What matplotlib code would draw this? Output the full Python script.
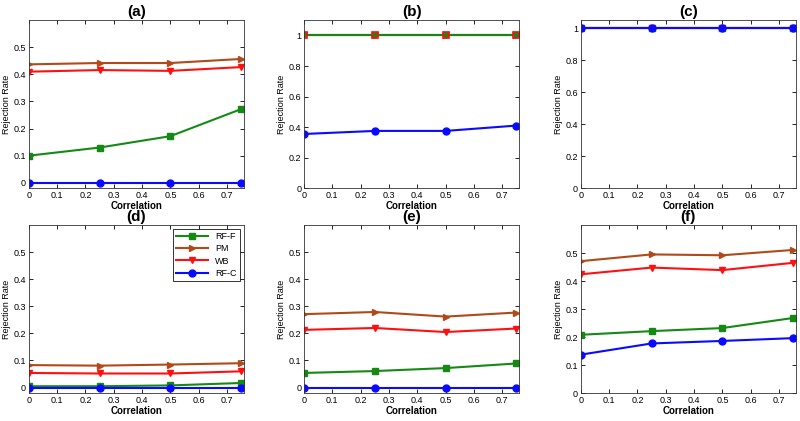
import matplotlib
matplotlib.use('Agg')
import matplotlib.pyplot as plt

plt.rcParams['font.family'] = ['Liberation Sans', 'DejaVu Sans']

corr = [0, 0.25, 0.5, 0.75]
names = ['RF-F', 'PM', 'WB', 'RF-C']
titles = ['(a)', '(b)', '(c)', '(d)', '(e)', '(f)']

# rejection rates per panel: RF-F, PM, WB, RF-C
rf_f = [
    [0.100, 0.130, 0.172, 0.272],
    [1, 1, 1, 1],
    [1, 1, 1, 1],
    [0.005, 0.005, 0.008, 0.017],
    [0.054, 0.061, 0.072, 0.089],
    [0.208, 0.221, 0.232, 0.268],
]
pm = [
    [0.437, 0.442, 0.442, 0.457],
    [1, 1, 1, 1],
    [1, 1, 1, 1],
    [0.083, 0.081, 0.085, 0.090],
    [0.271, 0.279, 0.262, 0.277],
    [0.471, 0.495, 0.492, 0.511],
]
wb = [
    [0.410, 0.416, 0.413, 0.427],
    [1, 1, 1, 1],
    [1, 1, 1, 1],
    [0.054, 0.052, 0.052, 0.060],
    [0.213, 0.220, 0.205, 0.218],
    [0.424, 0.448, 0.439, 0.465],
]
rf_c = [
    [0, 0, 0, 0],
    [0.355, 0.375, 0.375, 0.410],
    [1, 1, 1, 1],
    [0, 0, 0, 0],
    [0, 0, 0, 0],
    [0.137, 0.177, 0.186, 0.196],
]

ylims = [(-0.02, 0.6), (0, 1.1), (0, 1.05), (-0.02, 0.6), (-0.02, 0.6), (0, 0.6)]
yticks = [
    [0, 0.1, 0.2, 0.3, 0.4, 0.5],
    [0, 0.2, 0.4, 0.6, 0.8, 1],
    [0, 0.2, 0.4, 0.6, 0.8, 1],
    [0, 0.1, 0.2, 0.3, 0.4, 0.5],
    [0, 0.1, 0.2, 0.3, 0.4, 0.5],
    [0, 0.1, 0.2, 0.3, 0.4, 0.5],
]

green = '#148a14'
brown = '#b04a18'
red = '#ff1010'
blue = '#0a0aff'

lefts = [0.036, 0.380, 0.726]
bottoms = [0.553, 0.0665]
w, h = 0.269, 0.399

fig = plt.figure(figsize=(8, 4.21), dpi=100)

for i in range(6):
    ax = fig.add_axes([lefts[i % 3], bottoms[i // 3], w, h])
    kw = dict(lw=1.5, ms=5)
    if i == 1:
        # RF-F drawn on top of PM and WB which all sit at 1
        ax.plot(corr, pm[i], color=brown, marker='>', **kw)
        ax.plot(corr, wb[i], color=red, marker='v', **kw)
        ax.plot(corr, rf_f[i], color=green, marker='s', mec=red, mfc=green, mew=1.2, **kw)
        ax.plot(corr, rf_c[i], color=blue, marker='o', **kw)
    else:
        ax.plot(corr, rf_f[i], color=green, marker='s', label=names[0], **kw)
        ax.plot(corr, pm[i], color=brown, marker='>', label=names[1], **kw)
        ax.plot(corr, wb[i], color=red, marker='v', label=names[2], **kw)
        ax.plot(corr, rf_c[i], color=blue, marker='o', label=names[3], **kw)

    ax.set_xlim(0, 0.76)
    ax.set_ylim(*ylims[i])
    ax.set_xticks([0, 0.1, 0.2, 0.3, 0.4, 0.5, 0.6, 0.7])
    ax.set_xticklabels(['0', '0.1', '0.2', '0.3', '0.4', '0.5', '0.6', '0.7'])
    ax.set_yticks(yticks[i])
    ax.set_yticklabels([('%g' % v) for v in yticks[i]])
    ax.tick_params(direction='in', top=True, right=True, labelsize=6.5, length=3, width=0.6, pad=2)
    for s in ax.spines.values():
        s.set_linewidth(0.6)
        s.set_color('#333333')
    ax.set_title(titles[i], fontsize=11, fontweight='bold', pad=3)
    ax.set_xlabel('Correlation', fontsize=7, fontweight='bold', labelpad=1)
    ax.set_ylabel('Rejection Rate', fontsize=6.5, labelpad=2)

    if i == 3:
        leg = ax.legend(loc='upper right', fontsize=6.5, frameon=True, fancybox=False,
                        edgecolor='black', borderaxespad=0.4, handlelength=3.5,
                        labelspacing=0.35, borderpad=0.4)
        leg.get_frame().set_linewidth(0.7)

plt.savefig('out.png', dpi=100)
